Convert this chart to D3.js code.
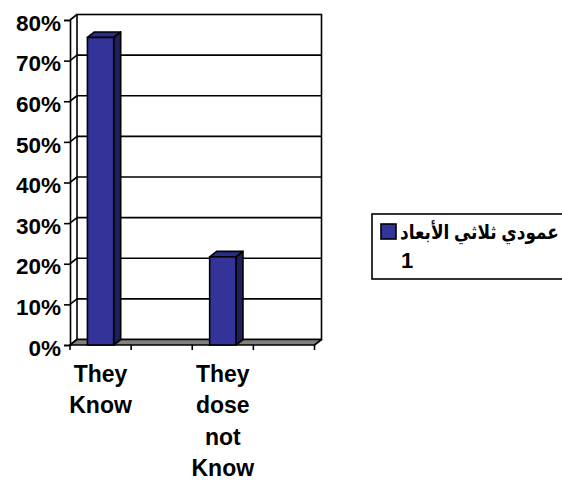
<!DOCTYPE html>
<html>
<head>
<meta charset="utf-8">
<script src="https://cdn.jsdelivr.net/npm/d3@7"></script>
<style>
  html, body { margin: 0; padding: 0; background: #fff; }
  svg { display: block; }
  text { font-family: "Liberation Sans", Arial, "DejaVu Sans", sans-serif; font-weight: bold; fill: #000; }
</style>
</head>
<body>
<svg id="chart" width="562" height="481"></svg>
<script>
// Categories along the floor (every slot gets a tick; empty names draw no label)
const categories = ["They Know", "", "They dose not Know", " "];
// Share of answers per category (null = no bar)
const values = [0.757, null, 0.217, null];
// Value-axis tick labels
const tickValues = [0, 0.1, 0.2, 0.3, 0.4, 0.5, 0.6, 0.7, 0.8];
const tickLabels = ["0%", "10%", "20%", "30%", "40%", "50%", "60%", "70%", "80%"];
// Legend entry (series name)
const seriesName = ["عمودي ثلاثي الأبعاد", "1"];

const svg = d3.select("#chart");

// Front plane of the 3-D box and depth offset to the back wall
const dx = 7, dy = -5.5;
const x = d3.scaleBand().domain(categories).range([70, 314.5]).padding(0);
const y = d3.scaleLinear().domain([0, 0.8]).range([345, 20]);
const barFrac = 0.43;

const faceColor = "#333399";
const topColor = "#2b2b88";
const sideColor = "#1f1f5e";
const line = "#000";
const sw = 1.6;

// Back wall
const backX0 = x.range()[0] + dx, backX1 = x.range()[1] + dx;
svg.append("rect")
  .attr("x", backX0).attr("y", y(0.8) + dy)
  .attr("width", backX1 - backX0).attr("height", y(0) - y(0.8))
  .attr("fill", "#fff").attr("stroke", line).attr("stroke-width", sw);

// Gridlines on the back wall and matching lines on the left side wall
svg.append("g").selectAll("line.grid")
  .data(tickValues.filter(v => v > 0 && v < 0.8))
  .join("line")
  .attr("x1", backX0).attr("x2", backX1)
  .attr("y1", d => y(d) + dy).attr("y2", d => y(d) + dy)
  .attr("stroke", line).attr("stroke-width", sw);

svg.append("g").selectAll("line.side")
  .data(tickValues)
  .join("line")
  .attr("x1", x.range()[0]).attr("y1", d => y(d))
  .attr("x2", x.range()[0] + dx).attr("y2", d => y(d) + dy)
  .attr("stroke", line).attr("stroke-width", sw);

// Floor
const fx0 = x.range()[0], fx1 = x.range()[1], fy = y(0);
svg.append("polygon")
  .attr("points", [[fx0, fy], [fx1, fy], [fx1 + dx, fy + dy], [fx0 + dx, fy + dy]].map(p => p.join(",")).join(" "))
  .attr("fill", "#808080").attr("stroke", line).attr("stroke-width", sw).attr("stroke-linejoin", "round");

// Value axis on the front left edge
const yAxis = d3.axisLeft(y).tickValues(tickValues).tickSize(6)
  .tickFormat((d, i) => tickLabels[i]);
const gy = svg.append("g").attr("transform", `translate(${fx0},0)`).call(yAxis);
gy.select(".domain").attr("stroke", line).attr("stroke-width", sw);
gy.selectAll(".tick line").attr("stroke", line).attr("stroke-width", sw);
gy.selectAll(".tick text")
  .attr("x", -9).attr("dy", "0.45em")
  .style("font-size", "22.5px")
  .style("font-family", "'Liberation Sans', Arial, sans-serif")
  .style("font-weight", "bold").attr("fill", "#000");

// Category ticks along the front floor edge
const tickXs = categories.map(c => x(c)).concat([x.range()[1]]);
svg.append("g").selectAll("line")
  .data(tickXs)
  .join("line")
  .attr("x1", d => d).attr("x2", d => d)
  .attr("y1", fy).attr("y2", fy + 5)
  .attr("stroke", line).attr("stroke-width", sw);

// Bars: front face, top face and right side face
const bars = svg.append("g");
categories.forEach((c, i) => {
  const v = values[i];
  if (v == null) return;
  const bw = x.bandwidth() * barFrac;
  const x0 = x(c) + (x.bandwidth() - bw) / 2, x1 = x0 + bw;
  const yt = y(v), yb = y(0);
  const g = bars.append("g");
  g.append("polygon")
    .attr("points", [[x1, yt], [x1 + dx, yt + dy], [x1 + dx, yb + dy], [x1, yb]].map(p => p.join(",")).join(" "))
    .attr("fill", sideColor).attr("stroke", line).attr("stroke-width", sw).attr("stroke-linejoin", "round");
  g.append("polygon")
    .attr("points", [[x0, yt], [x0 + dx, yt + dy], [x1 + dx, yt + dy], [x1, yt]].map(p => p.join(",")).join(" "))
    .attr("fill", topColor).attr("stroke", line).attr("stroke-width", sw).attr("stroke-linejoin", "round");
  g.append("rect")
    .attr("x", x0).attr("y", yt).attr("width", bw).attr("height", yb - yt)
    .attr("fill", faceColor).attr("stroke", line).attr("stroke-width", sw);
});

// Category labels, one word per line
const lineGap = 31.5;
svg.append("g").selectAll("text")
  .data(categories.filter(c => c.trim() !== ""))
  .join("text")
  .attr("text-anchor", "middle")
  .style("font-size", "23px")
  .each(function (c) {
    const t = d3.select(this);
    c.split(" ").forEach((w, k) => {
      t.append("tspan")
        .attr("x", x(c) + x.bandwidth() / 2)
        .attr("y", 381.5 + k * lineGap)
        .text(w);
    });
  });

// Legend
const lg = svg.append("g");
lg.append("rect")
  .attr("x", 372).attr("y", 214).attr("width", 210).attr("height", 65)
  .attr("fill", "#fff").attr("stroke", line).attr("stroke-width", sw);
lg.append("rect")
  .attr("x", 381).attr("y", 224).attr("width", 15).attr("height", 15)
  .attr("fill", faceColor).attr("stroke", line).attr("stroke-width", sw);
// Series name, condensed horizontally to sit between the swatch and the edge
const nameX = 400, nameW = 159;
const name = lg.append("text")
  .attr("x", 0).attr("y", 0)
  .style("font-size", "20px")
  .text(seriesName[0]);
const nameLen = name.node().getComputedTextLength();
name.attr("transform", `translate(${nameX},239) scale(${Math.min(1, nameW / nameLen)},1)`);
lg.append("text")
  .attr("x", 401).attr("y", 268)
  .style("font-size", "22px")
  .text(seriesName[1]);
</script>
</body>
</html>
